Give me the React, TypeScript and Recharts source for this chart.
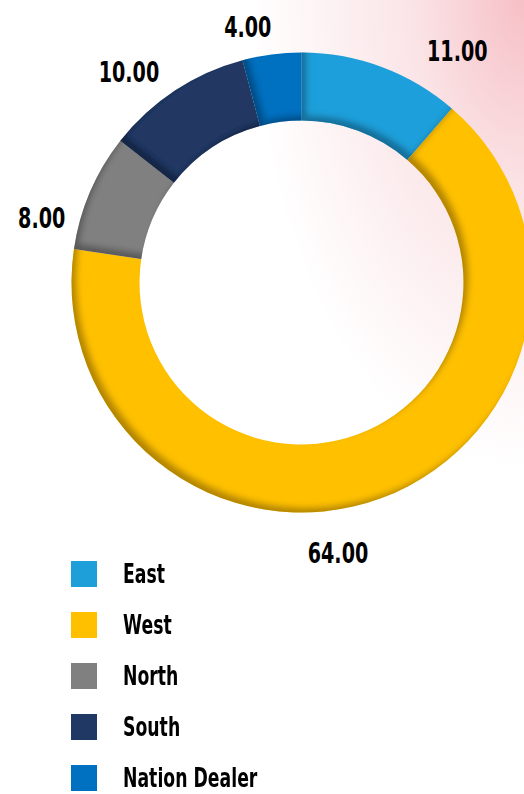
import { Cell, Legend, Pie, PieChart } from "recharts";

const regions = ["East", "West", "North", "South", "Nation Dealer"];
const values = [11, 64, 8, 10, 4];
const colors = ["#1F9FDA", "#FFC000", "#808080", "#203864", "#0070C0"];

// label placement tweaks: angle nudge (deg, clockwise) and distance from centre
const labelNudge = [13.4, 12.7, -9, -5.8, -4.4];
const labelRadius = [280, 272, 268, 273, 262];

const data = regions.map((name, i) => ({ name, value: values[i] }));

const FONT = "'DejaVu Sans', sans-serif";
const RAD = Math.PI / 180;

const renderLabel = (props: any) => {
  const cx = Number(props.cx);
  const cy = Number(props.cy);
  const a = (Number(props.midAngle) - labelNudge[props.index]) * RAD;
  const r = labelRadius[props.index];
  const x = cx + r * Math.cos(a);
  const y = cy - r * Math.sin(a);
  return (
    <text
      transform={`translate(${x},${y + 1}) scale(0.66,1)`}
      textAnchor="middle"
      dominantBaseline="central"
      fill="#000"
      fontFamily={FONT}
      fontWeight={700}
      fontSize={29}
    >
      {Number(props.value).toFixed(2)}
    </text>
  );
};

const renderLegend = (props: any) => {
  const payload = [...(props.payload || [])].sort(
    (a: any, b: any) => regions.indexOf(a.value) - regions.indexOf(b.value)
  );
  return (
    <div style={{ paddingLeft: 71 }}>
      {payload.map((entry: any) => (
        <div key={entry.value} style={{ display: "flex", alignItems: "center", height: 51 }}>
          <span style={{ width: 26, height: 26, background: entry.color, display: "inline-block", flex: "none" }} />
          <span
            style={{
              marginLeft: 26,
              fontFamily: FONT,
              fontWeight: 700,
              fontSize: 27,
              color: "#000",
              display: "inline-block",
              whiteSpace: "nowrap",
              transform: "scaleX(0.64)",
              transformOrigin: "left center"
            }}
          >
            {entry.value}
          </span>
        </div>
      ))}
    </div>
  );
};

export default function App() {
  return (
    <div
      style={{
        position: "absolute",
        left: 0,
        top: 0,
        width: 524,
        height: 794,
        overflow: "hidden",
        background:
          "radial-gradient(ellipse 270px 470px at 100% 0%, rgba(246,192,198,1) 0%, rgba(248,212,216,0.65) 40%, rgba(255,255,255,0) 100%), #fff"
      }}
    >
      <svg width={0} height={0} style={{ position: "absolute" }}>
        <defs>
          <filter id="innerShadow" x="-10%" y="-10%" width="120%" height="120%">
            <feOffset in="SourceAlpha" dx="5" dy="-5" result="off" />
            <feGaussianBlur in="off" stdDeviation="3" result="blur" />
            <feComposite in="SourceAlpha" in2="blur" operator="out" result="edge" />
            <feFlood floodColor="#000" floodOpacity="0.55" />
            <feComposite in2="edge" operator="in" result="shadow" />
            <feComposite in="shadow" in2="SourceGraphic" operator="over" />
          </filter>
        </defs>
      </svg>
      <PieChart width={524} height={794} margin={{ top: 0, right: 0, bottom: 0, left: 0 }}>
        <Pie
          data={data}
          dataKey="value"
          nameKey="name"
          cx={301.5}
          cy={282.5}
          innerRadius={162}
          outerRadius={230}
          startAngle={90}
          endAngle={-270}
          stroke="none"
          label={renderLabel}
          labelLine={false}
          isAnimationActive={false}
        >
          {data.map((entry, i) => (
            <Cell key={entry.name} fill={colors[i]} filter="url(#innerShadow)" />
          ))}
        </Pie>
        <Legend
          layout="horizontal"
          verticalAlign="bottom"
          align="left"
          content={renderLegend}
          wrapperStyle={{ left: 0, top: 548, bottom: "auto", width: 524 }}
        />
      </PieChart>
    </div>
  );
}
